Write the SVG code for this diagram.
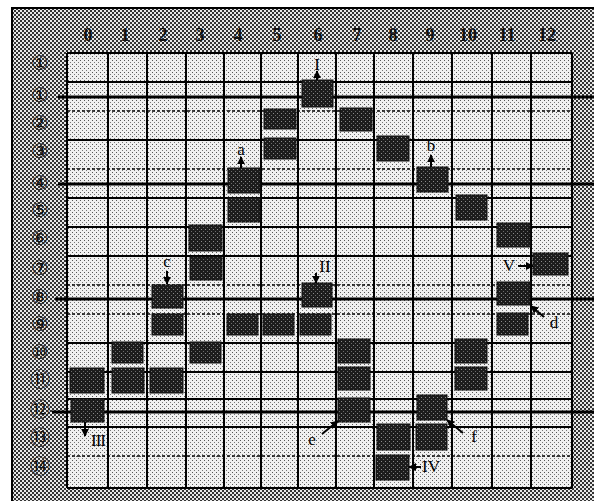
<svg xmlns="http://www.w3.org/2000/svg" width="594" height="501" viewBox="0 0 594 501">
<defs>
<pattern id="ht" width="4" height="4" patternUnits="userSpaceOnUse">
<rect width="4" height="4" fill="#e8e8e8"/>
<rect x="0" y="0" width="2" height="2" fill="#333"/>
<rect x="2" y="2" width="2" height="2" fill="#333"/>
</pattern>
<pattern id="lt" width="4" height="4" patternUnits="userSpaceOnUse">
<rect width="4" height="4" fill="#f0f0f0"/>
<rect x="0" y="0" width="1" height="1" fill="#555"/>
<rect x="2" y="2" width="1" height="1" fill="#777"/>
</pattern>
<pattern id="dk" width="4" height="4" patternUnits="userSpaceOnUse">
<rect width="4" height="4" fill="#1c1c1c"/>
<rect x="1" y="1" width="1" height="1" fill="#8a8a8a"/>
<rect x="3" y="3" width="1" height="1" fill="#6a6a6a"/>
</pattern>
<marker id="ah" viewBox="0 0 10 10" refX="9" refY="5" markerWidth="4" markerHeight="4" orient="auto-start-reverse">
<path d="M0,0 L10,5 L0,10 z" fill="#000"/>
</marker>
</defs>
<style>
.cell{fill:url(#dk);stroke:#111;stroke-width:1}
.grid{stroke:#000;stroke-width:2;fill:none}
.dash{stroke:#000;stroke-width:1.6;stroke-dasharray:3 2;fill:none}
.thick{stroke:#000;stroke-width:3;fill:none}
.hdr{font-family:"Liberation Serif",serif;font-size:18px;font-weight:bold;fill:#111;text-anchor:middle}
.rl{font-family:"DejaVu Sans","Noto Sans CJK SC",sans-serif;font-size:20px;fill:#111;text-anchor:middle}
.lbl{font-family:"Liberation Serif",serif;font-size:17px;fill:#000;text-anchor:middle}
.con{stroke:#000;stroke-width:2;fill:none}
</style>
<rect x="0" y="0" width="594" height="501" fill="#fff"/>
<rect x="12" y="8" width="582" height="493" fill="url(#ht)"/>
<path d="M12,501 V8 H594" stroke="#000" stroke-width="2" fill="none"/>
<rect x="67" y="53" width="505" height="435" fill="url(#lt)"/>

<g id="grid">
<path class="grid" d="M67,53 V488 M108,53 V488 M147,53 V488 M186,53 V488 M224,53 V488 M261,53 V488 M298,53 V488 M336,53 V488 M374,53 V488 M413,53 V488 M452,53 V488 M492,53 V488 M531,53 V488 M572,53 V488"/>
<path class="grid" d="M67,53 H572 M67,82 H572 M67,140 H572 M67,198 H572 M67,227 H572 M67,256 H572 M67,343 H572 M67,372 H572 M67,399 H572 M67,427 H572 M67,488 H572"/>
<path class="dash" d="M67,111 H572 M67,169 H572 M67,285 H572 M67,314 H572 M67,456 H572"/>
<path class="thick" d="M58,97 H594 M58,184 H594 M55,299 H594 M52,412 H594"/>
</g>

<g id="col-headers">
<text class="hdr" x="88" y="41">0</text>
<text class="hdr" x="125" y="41">1</text>
<text class="hdr" x="163" y="41">2</text>
<text class="hdr" x="200" y="41">3</text>
<text class="hdr" x="238" y="41">4</text>
<text class="hdr" x="277" y="41">5</text>
<text class="hdr" x="318" y="41">6</text>
<text class="hdr" x="357" y="41">7</text>
<text class="hdr" x="393" y="41">8</text>
<text class="hdr" x="430" y="41">9</text>
<text class="hdr" x="468" y="41">10</text>
<text class="hdr" x="507" y="41">11</text>
<text class="hdr" x="547" y="41">12</text>
</g>

<g id="row-labels">
<text class="rl" x="40" y="70">①</text>
<text class="rl" x="40" y="102">①</text>
<text class="rl" x="40" y="130">②</text>
<text class="rl" x="40" y="158">③</text>
<text class="rl" x="40" y="190">④</text>
<text class="rl" x="40" y="217">⑤</text>
<text class="rl" x="40" y="245">⑥</text>
<text class="rl" x="40" y="275">⑦</text>
<text class="rl" x="40" y="304">⑧</text>
<text class="rl" x="40" y="331">⑨</text>
<text class="rl" x="40" y="359">⑩</text>
<text class="rl" x="40" y="387">⑪</text>
<text class="rl" x="40" y="417">⑫</text>
<text class="rl" x="40" y="445">⑬</text>
<text class="rl" x="40" y="474">⑭</text>
</g>

<g id="n-6-1"><rect class="cell" x="302" y="80" width="31" height="27"/></g>
<g id="n-5-2"><rect class="cell" x="264" y="109" width="32" height="20"/></g>
<g id="n-7-2"><rect class="cell" x="340" y="108" width="32" height="23"/></g>
<g id="n-5-3"><rect class="cell" x="264" y="138" width="32" height="21"/></g>
<g id="n-8-3"><rect class="cell" x="377" y="136" width="32" height="25"/></g>
<g id="n-4-4"><rect class="cell" x="228" y="168" width="32" height="25"/></g>
<g id="n-9-4"><rect class="cell" x="417" y="167" width="31" height="25"/></g>
<g id="n-4-5"><rect class="cell" x="228" y="198" width="32" height="24"/></g>
<g id="n-10-5"><rect class="cell" x="456" y="195" width="31" height="25"/></g>
<g id="n-3-6"><rect class="cell" x="189" y="225" width="33" height="26"/></g>
<g id="n-11-6"><rect class="cell" x="497" y="223" width="33" height="24"/></g>
<g id="n-3-7"><rect class="cell" x="190" y="257" width="32" height="23"/></g>
<g id="n-12-7"><rect class="cell" x="533" y="253" width="35" height="22"/></g>
<g id="n-2-8"><rect class="cell" x="152" y="285" width="31" height="23"/></g>
<g id="n-6-8"><rect class="cell" x="302" y="283" width="30" height="24"/></g>
<g id="n-11-8"><rect class="cell" x="497" y="282" width="33" height="23"/></g>
<g id="n-2-9"><rect class="cell" x="152" y="314" width="31" height="21"/></g>
<g id="n-4-9"><rect class="cell" x="227" y="314" width="31" height="21"/></g>
<g id="n-5-9"><rect class="cell" x="263" y="314" width="31" height="21"/></g>
<g id="n-6-9"><rect class="cell" x="300" y="314" width="31" height="21"/></g>
<g id="n-11-9"><rect class="cell" x="497" y="313" width="31" height="22"/></g>
<g id="n-1-10"><rect class="cell" x="112" y="342" width="31" height="21"/></g>
<g id="n-3-10"><rect class="cell" x="190" y="342" width="31" height="21"/></g>
<g id="n-7-10"><rect class="cell" x="338" y="339" width="32" height="24"/></g>
<g id="n-10-10"><rect class="cell" x="455" y="339" width="32" height="24"/></g>
<g id="n-0-11"><rect class="cell" x="70" y="368" width="34" height="25"/></g>
<g id="n-1-11"><rect class="cell" x="112" y="368" width="32" height="25"/></g>
<g id="n-2-11"><rect class="cell" x="150" y="368" width="33" height="25"/></g>
<g id="n-7-11"><rect class="cell" x="338" y="367" width="32" height="23"/></g>
<g id="n-10-11"><rect class="cell" x="455" y="367" width="32" height="23"/></g>
<g id="n-0-12"><rect class="cell" x="71" y="399" width="33" height="23"/></g>
<g id="n-7-12"><rect class="cell" x="338" y="398" width="32" height="24"/></g>
<g id="n-9-12"><rect class="cell" x="417" y="395" width="30" height="25"/></g>
<g id="n-8-13"><rect class="cell" x="377" y="424" width="33" height="26"/></g>
<g id="n-9-13"><rect class="cell" x="416" y="424" width="31" height="26"/></g>
<g id="n-8-14"><rect class="cell" x="376" y="455" width="33" height="25"/></g>

<g id="labels">
<text class="lbl" x="241" y="155">a</text>
<text class="lbl" x="431" y="151">b</text>
<text class="lbl" x="167" y="267">c</text>
<text class="lbl" x="554" y="328">d</text>
<text class="lbl" x="312" y="445">e</text>
<text class="lbl" x="474" y="442">f</text>
<text class="lbl" x="317" y="70">I</text>
<text class="lbl" x="325" y="272">II</text>
<text class="lbl" x="98" y="446" letter-spacing="-1">III</text>
<text class="lbl" x="431" y="472">IV</text>
<text class="lbl" x="509" y="271">V</text>
</g>

<g id="connectors">
<path class="con" d="M241,168 V157" marker-end="url(#ah)"/>
<path class="con" d="M431,167 V155" marker-end="url(#ah)"/>
<path class="con" d="M317,80 V71" marker-end="url(#ah)"/>
<path class="con" d="M167,271 V284" marker-end="url(#ah)"/>
<path class="con" d="M316,273 V283" marker-end="url(#ah)"/>
<path class="con" d="M85,422 V436" marker-end="url(#ah)"/>
<path class="con" d="M544,317 L531,306" marker-end="url(#ah)"/>
<path class="con" d="M322,434 L338,421" marker-end="url(#ah)"/>
<path class="con" d="M463,433 L447,420" marker-end="url(#ah)"/>
<path class="con" d="M421,467 H409" marker-end="url(#ah)"/>
<path class="con" d="M518,266 H533" marker-end="url(#ah)"/>
</g>
</svg>
